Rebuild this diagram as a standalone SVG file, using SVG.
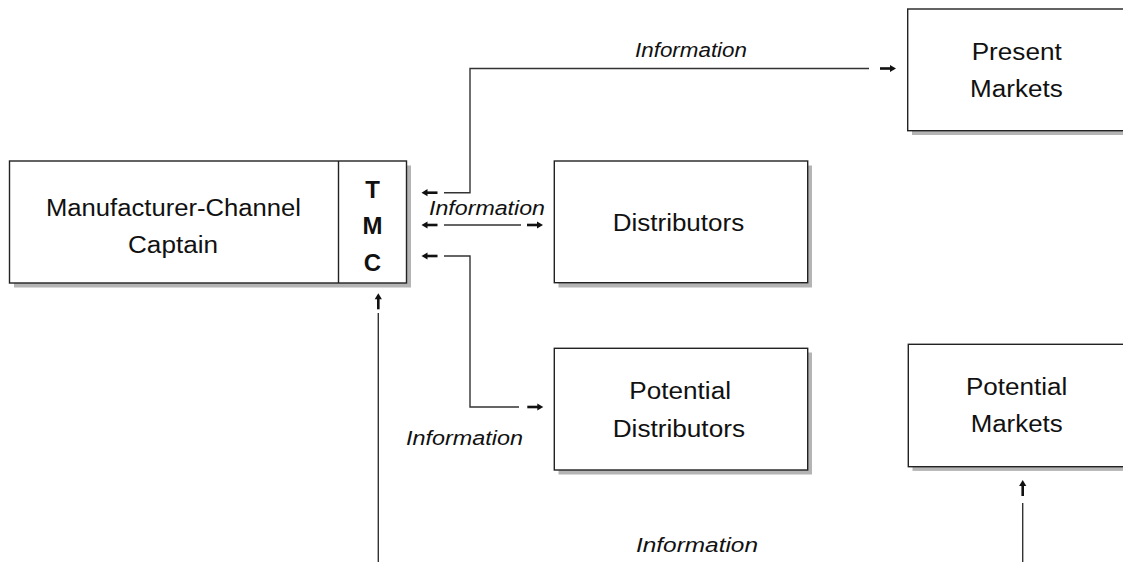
<svg xmlns="http://www.w3.org/2000/svg" xmlns:xlink="http://www.w3.org/1999/xlink" width="1123" height="562" viewBox="0 0 1123 562">
<style>
.box{fill:#fff;stroke:#222;stroke-width:1.4}
.sh{fill:#b4b4b4}
.lbl{font-family:"Liberation Sans",Arial,sans-serif;font-size:23px;fill:#111}
.tmc{font-family:"Liberation Sans",Arial,sans-serif;font-size:24px;font-weight:bold;fill:#111;text-anchor:middle}
.info{font-family:"Liberation Sans",Arial,sans-serif;font-size:20px;font-style:italic;fill:#111}
.ln{fill:none;stroke:#333;stroke-width:1.4}
</style>
<defs>
<g id="ah"><polygon points="0,0 -6,-3.6 -6,3.6" fill="#111"/><rect x="-16" y="-1.3" width="11" height="2.6" fill="#111"/></g>
</defs>
<rect width="1123" height="562" fill="#fff"/>

<g id="connectors">
<path class="ln" d="M444,192.7 H470 V68.5 H869"/>
<path class="ln" d="M444,225 H521"/>
<path class="ln" d="M444,256 H470 V407 H519"/>
<path class="ln" d="M378.3,313 V562"/>
<path class="ln" d="M1022.7,503 V562"/>
<use xlink:href="#ah" transform="translate(421.5,192.7) rotate(180)"/>
<use xlink:href="#ah" transform="translate(421.5,225) rotate(180)"/>
<use xlink:href="#ah" transform="translate(543,225)"/>
<use xlink:href="#ah" transform="translate(421.5,256) rotate(180)"/>
<use xlink:href="#ah" transform="translate(896,68.5)"/>
<use xlink:href="#ah" transform="translate(543.3,407)"/>
<use xlink:href="#ah" transform="translate(378.3,293.3) rotate(-90)"/>
<use xlink:href="#ah" transform="translate(1022.7,480) rotate(-90)"/>
<text class="info" x="635" y="57" textLength="112" lengthAdjust="spacingAndGlyphs">Information</text>
<text class="info" x="429" y="215" textLength="116" lengthAdjust="spacingAndGlyphs">Information</text>
<text class="info" x="406" y="445" textLength="117" lengthAdjust="spacingAndGlyphs">Information</text>
<text class="info" x="636" y="552" textLength="122" lengthAdjust="spacingAndGlyphs">Information</text>
</g>

<g id="manufacturer">
<rect class="sh" x="14" y="165.5" width="397" height="122"/>
<rect class="box" x="9.5" y="161" width="397" height="122"/>
<line class="box" x1="338.5" y1="161" x2="338.5" y2="283"/>
<text class="lbl" x="46" y="216" textLength="255" lengthAdjust="spacingAndGlyphs">Manufacturer-Channel</text>
<text class="lbl" x="128" y="252.5" textLength="90" lengthAdjust="spacingAndGlyphs">Captain</text>
<text class="tmc" x="372.5" y="197.5">T</text>
<text class="tmc" x="372.5" y="234.3">M</text>
<text class="tmc" x="372.5" y="270.7">C</text>
</g>

<g id="present-markets">
<rect class="sh" x="912" y="13" width="216" height="122"/>
<rect class="box" x="907.7" y="9" width="218" height="121.7"/>
<text class="lbl" x="971.7" y="60" textLength="90" lengthAdjust="spacingAndGlyphs">Present</text>
<text class="lbl" x="970" y="96.7" textLength="92.7" lengthAdjust="spacingAndGlyphs">Markets</text>
</g>

<g id="distributors">
<rect class="sh" x="558.5" y="165.5" width="253.5" height="122"/>
<rect class="box" x="554.3" y="161" width="253.4" height="121.7"/>
<text class="lbl" x="612.7" y="231" textLength="131.5" lengthAdjust="spacingAndGlyphs">Distributors</text>
</g>

<g id="potential-distributors">
<rect class="sh" x="558.5" y="352.5" width="253.5" height="122"/>
<rect class="box" x="554.3" y="348.3" width="253.4" height="121.7"/>
<text class="lbl" x="629.3" y="399.3" textLength="101.7" lengthAdjust="spacingAndGlyphs">Potential</text>
<text class="lbl" x="612.7" y="436.7" textLength="132.3" lengthAdjust="spacingAndGlyphs">Distributors</text>
</g>

<g id="potential-markets">
<rect class="sh" x="912.5" y="348.5" width="216" height="122.4"/>
<rect class="box" x="908.3" y="344.3" width="218" height="122.4"/>
<text class="lbl" x="966" y="395.3" textLength="101.3" lengthAdjust="spacingAndGlyphs">Potential</text>
<text class="lbl" x="970.7" y="431.7" textLength="92" lengthAdjust="spacingAndGlyphs">Markets</text>
</g>
</svg>
